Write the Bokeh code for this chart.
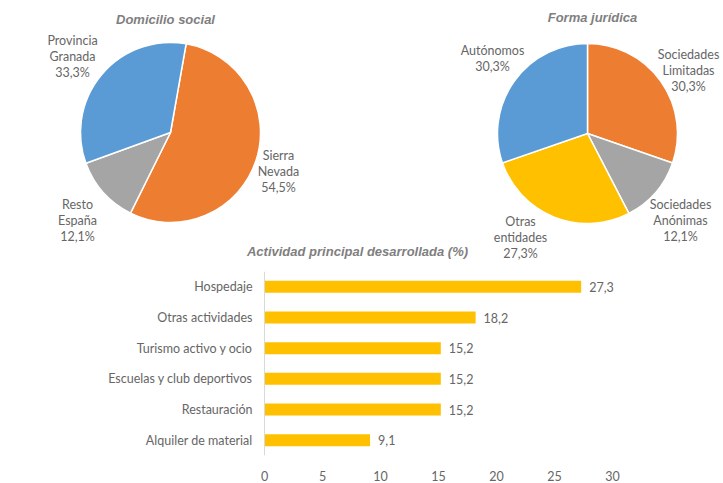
import math
from bokeh.plotting import figure
from bokeh.layouts import column
from bokeh.models import Range1d, FactorRange, FixedTicker, ColumnDataSource, Span
from bokeh.core.properties import value
from bokeh.embed import file_html
from bokeh.resources import INLINE

# ---------------- data ----------------
dom_names = ["Sierra Nevada", "Resto España", "Provincia Granada"]
dom_values = [54.5, 12.1, 33.3]

forma_names = ["Sociedades Limitadas", "Sociedades Anónimas", "Otras entidades", "Autónomos"]
forma_values = [30.3, 12.1, 27.3, 30.3]

act_categories = ["Hospedaje", "Otras actividades", "Turismo activo y ocio",
                  "Escuelas y club deportivos", "Restauración", "Alquiler de material"]
act_values = [27.3, 18.2, 15.2, 15.2, 15.2, 9.1]
x_ticks = [0, 5, 10, 15, 20, 25, 30]

# ---------------- styles ----------------
BLUE, ORANGE, GRAY, GOLD = "#5B9BD5", "#ED7D31", "#A5A5A5", "#FFC000"
dom_colors = [ORANGE, GRAY, BLUE]
forma_colors = [ORANGE, GRAY, GOLD, BLUE]
TXT = "#666666"
TITLE_COL = "#7F7F7F"
LBL_FONT = value("Lato")
TITLE_FONT = value("Liberation Sans")

W = 723
TOP_H = 262
BOT_H = 221


def fx(rx):
    return rx


def fy(ry):
    return TOP_H - ry


def fmt(v):
    return ("%.1f" % v).replace(".", ",")


top = figure(width=W, height=TOP_H, x_range=Range1d(0, W), y_range=Range1d(0, TOP_H),
             output_backend="svg", toolbar_location=None, min_border=0)
top.axis.visible = False
top.grid.visible = False
top.outline_line_color = None
top.background_fill_color = "white"


def draw_pie(p, cx, cy, r, vals, colors, start_deg):
    total = sum(vals)
    cum = 0.0
    starts, ends = [], []
    base = math.radians(start_deg)
    for v in vals:
        starts.append(base - 2 * math.pi * cum / total)
        cum += v
        ends.append(base - 2 * math.pi * cum / total)
    src = ColumnDataSource(dict(s=starts, e=ends, c=colors))
    p.wedge(x=cx, y=cy, radius=r, start_angle="s", end_angle="e", direction="clock",
            fill_color="c", line_color="white", line_width=1.5, source=src)


draw_pie(top, fx(170), fy(132), 90, dom_values, dom_colors, 80)
draw_pie(top, fx(587), fy(133), 90, forma_values, forma_colors, 90)

# label anchor positions (reference pixel coords of first line center), line step
dom_label_pos = [(278, 155), (77, 204), (72, 40)]
forma_label_pos = [(688, 54), (680, 204), (520, 221), (492, 50)]
STEP = 16


def draw_labels(p, names, vals, positions):
    xs, ys, ts = [], [], []
    for name, v, (lx, ly) in zip(names, vals, positions):
        lines = name.split(" ") + [fmt(v) + "%"]
        for i, t in enumerate(lines):
            xs.append(fx(lx))
            ys.append(fy(ly + i * STEP))
            ts.append(t)
    p.text(x=xs, y=ys, text=ts, text_font=LBL_FONT, text_font_size="12.5px",
           text_color=TXT, text_align="center", text_baseline="middle")


draw_labels(top, dom_names, dom_values, dom_label_pos)
draw_labels(top, forma_names, forma_values, forma_label_pos)

titles = ["Domicilio social", "Forma jurídica", "Actividad principal desarrollada (%)"]
title_pos = [(165, 19), (592, 17), (357, 251)]
top.text(x=[fx(a) for a, b in title_pos], y=[fy(b) for a, b in title_pos], text=titles,
         text_font=TITLE_FONT, text_font_style="bold italic", text_font_size="13px",
         text_color=TITLE_COL, text_align="center", text_baseline="middle")

# ---------------- bar chart ----------------
ZERO_PX = 264       # pixel of value 0
THIRTY_PX = 612     # pixel of value 30
ppu = (THIRTY_PX - ZERO_PX) / 30.0
bx_range = Range1d(-ZERO_PX / ppu, 30 + (W - THIRTY_PX) / ppu)

bot = figure(width=W, height=BOT_H, y_range=FactorRange(*list(reversed(act_categories))),
             x_range=bx_range, output_backend="svg", toolbar_location=None,
             min_border_left=0, min_border_right=0, min_border_top=9, min_border_bottom=26)
src = ColumnDataSource(dict(cat=act_categories, val=act_values,
                            lab=[fmt(v) for v in act_values], zero=[0] * len(act_values)))
bot.hbar(y="cat", right="val", left=0, height=0.39, fill_color=GOLD, line_color=None, source=src)
bot.text(x="val", y="cat", text="lab", x_offset=8, text_font=LBL_FONT, text_font_size="12.5px",
         text_color=TXT, text_align="left", text_baseline="middle", source=src)
# category labels (left of the value axis)
bot.text(x="zero", y="cat", text="cat", x_offset=-12, text_font=LBL_FONT, text_font_size="12.5px",
         text_color=TXT, text_align="right", text_baseline="middle", source=src)
bot.add_layout(Span(location=0, dimension="height", line_color="#D9D9D9", line_width=1))
bot.grid.visible = False
bot.outline_line_color = None
bot.yaxis.visible = False
bot.xaxis.ticker = FixedTicker(ticks=x_ticks)
bot.xaxis.axis_line_color = None
bot.xaxis.major_tick_line_color = None
bot.xaxis.minor_tick_line_color = None
bot.xaxis.major_label_standoff = 9
bot.xaxis.major_label_text_font = "Lato"
bot.xaxis.major_label_text_font_size = "12.5px"
bot.xaxis.major_label_text_color = TXT

layout = column(top, bot, spacing=0)
open("out.html", "w").write(file_html(layout, INLINE))
